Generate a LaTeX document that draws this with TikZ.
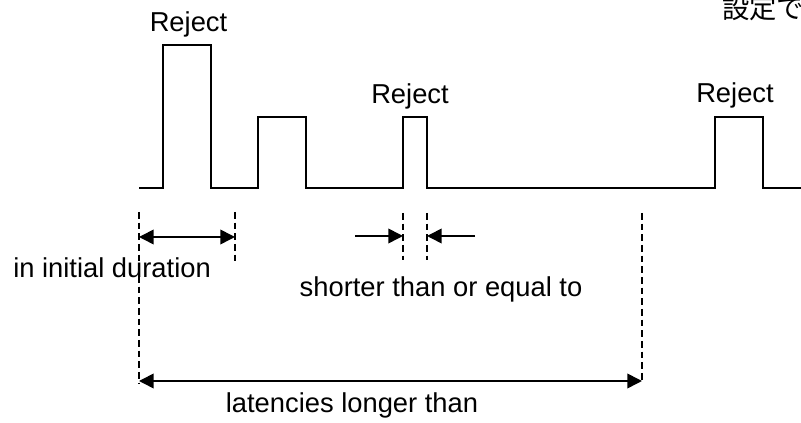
\documentclass[tikz,border=0pt]{standalone}
\usepackage{fontspec}
\setmainfont{Liberation Sans}
\newfontfamily\jpfont{Noto Sans CJK JP}
\usetikzlibrary{arrows.meta}

\begin{document}
\begin{tikzpicture}[x=0.75pt, y=-0.75pt, font=\fontsize{20.5}{24}\selectfont,
  signal/.style={line width=1.2pt, line join=miter},
  guide/.style={line width=1pt, dash pattern=on 5pt off 3pt},
  dimarrow/.style={line width=1.2pt, -{Triangle[length=11pt, width=11pt]}},
  dimboth/.style={line width=1.2pt, {Triangle[length=11pt, width=11pt]}-{Triangle[length=11pt, width=11pt]}}]
  \useasboundingbox (0,0) rectangle (801,423);

  % waveform
  \draw[signal] (139,188) -- (163,188) -- (163,45) -- (211,45) -- (211,188)
    -- (258,188) -- (258,117) -- (306,117) -- (306,188)
    -- (403,188) -- (403,117) -- (427,117) -- (427,188)
    -- (715,188) -- (715,117) -- (763,117) -- (763,188) -- (801,188);

  % guide points
  \coordinate (start) at (139,212);
  \coordinate (init) at (235,212);
  \coordinate (shortL) at (403,213);
  \coordinate (shortR) at (427,213);
  \coordinate (late) at (642,213);

  \draw[guide] (start) -- ++(0,171);
  \draw[guide] (init) -- ++(0,50);
  \draw[guide] (shortL) -- ++(0,47);
  \draw[guide] (shortR) -- ++(0,47);
  \draw[guide] (late) -- ++(0,170);

  % dimension arrows
  \coordinate (i1) at (139,237);
  \coordinate (i2) at (235,237);
  \draw[dimboth] (i1) -- (i2);

  \coordinate (s1) at (355,236);
  \coordinate (s2) at (403,236);
  \coordinate (s3) at (475,236);
  \coordinate (s4) at (427,236);
  \draw[dimarrow] (s1) -- (s2);
  \draw[dimarrow] (s3) -- (s4);

  \coordinate (l1) at (139,381);
  \coordinate (l2) at (642,381);
  \draw[dimboth] (l1) -- (l2);

  % labels
  \node[anchor=base, inner sep=0pt] (rej1) at (188.5,32) {Reject};
  \node[anchor=base, inner sep=0pt] (rej2) at (410,104) {Reject};
  \node[anchor=base, inner sep=0pt] (rej3) at (735,103) {Reject};
  \node[anchor=base west, inner sep=0pt] (setting) at (722,19) {\jpfont 設定で};
  \node[anchor=base west, inner sep=0pt] (initlbl) at (13,278) {in initial duration};
  \node[anchor=base, inner sep=0pt] (shortlbl) at (441,297) {shorter than or equal to};
  \node[anchor=base, inner sep=0pt] (latelbl) at (352,413) {latencies longer than};
\end{tikzpicture}
\end{document}
